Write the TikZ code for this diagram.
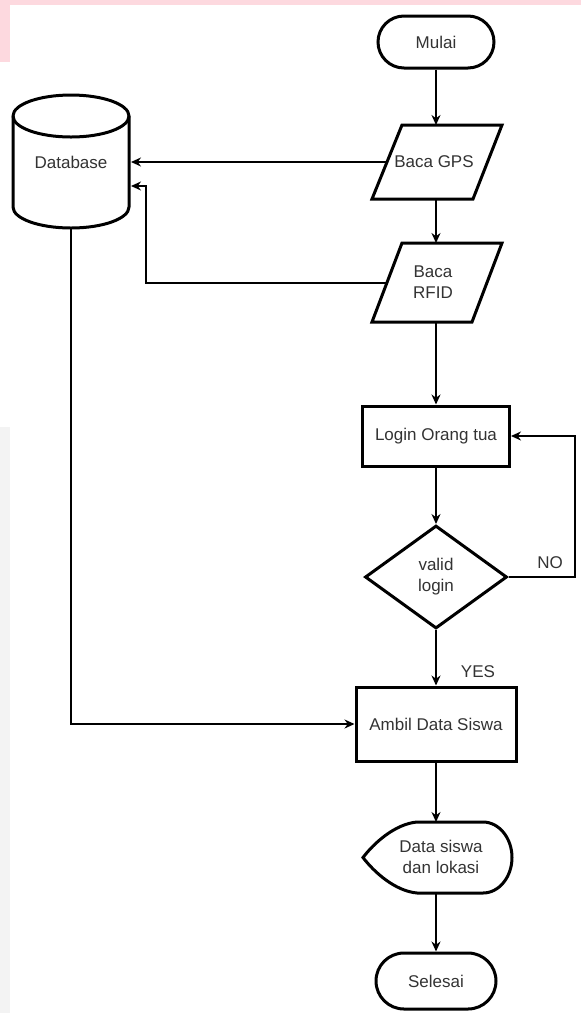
\documentclass[tikz,border=0pt]{standalone}
\usepackage{fontspec}
\setmainfont{Liberation Sans}
\usetikzlibrary{arrows.meta,shapes.geometric}
\definecolor{txt}{HTML}{333333}
\definecolor{pinkbar}{HTML}{FDD9DF}
\definecolor{graybar}{HTML}{F3F3F3}
\begin{document}
\begin{tikzpicture}[x=1pt,y=-1pt,
  outl/.style={draw=black, line width=3pt, fill=white, line join=miter},
  shp/.style={outl, text=txt, font=\fontsize{17}{21}\selectfont, align=center, inner sep=0pt},
  term/.style={shp, rounded corners=26pt, minimum width=116pt, minimum height=52pt},
  proc/.style={shp, rectangle},
  dec/.style={shp, diamond},
  lbl/.style={text=txt, font=\fontsize{17}{21}\selectfont, align=center, inner sep=0pt},
  conn/.style={draw=black, line width=1.5pt, -{Stealth[length=10pt,width=9pt]}}
]
\useasboundingbox (0,0) rectangle (581,1013);
\fill[white] (0,0) rectangle (581,1013);
\fill[pinkbar] (0,0) rectangle (581,5);
\fill[pinkbar] (0,0) rectangle (10,62);
\fill[graybar] (0,427) rectangle (10,1013);

% Database cylinder
\path[outl] (13,116) -- (13,207) arc[start angle=180,end angle=0,x radius=58,y radius=21]
  -- (129,116) arc[start angle=0,end angle=-180,x radius=58,y radius=21] -- cycle;
\draw[line width=3pt] (13,116) arc[start angle=180,end angle=0,x radius=58,y radius=21];
\node[lbl] (db) at (71,162) {Database};
\coordinate (dbR1) at (131,162);
\coordinate (dbR2) at (131,186);
\coordinate (dbB) at (71,228);

% Mulai
\node[term] (mulai) at (436,42) {Mulai};

% Baca GPS
\path[outl] (402,125) -- (502,125) -- (473,199) -- (372,199) -- cycle;
\node[lbl] (gps) at (434,162) {Baca GPS};
\coordinate (gpsT) at (436,125);
\coordinate (gpsB) at (436,199);
\coordinate (gpsL) at (387,162);

% Baca RFID
\path[outl] (402,243) -- (502,243) -- (472,322) -- (372,322) -- cycle;
\node[lbl] (rfid) at (433,282) {Baca\\RFID};
\coordinate (rfidT) at (436,243);
\coordinate (rfidB) at (436,322);
\coordinate (rfidL) at (387,283);

% Login
\node[proc, minimum width=147pt, minimum height=60pt] (login) at (436,436) {Login Orang tua};

% Decision
\node[dec, minimum width=142pt, minimum height=103pt] (valid) at (436,577) {valid\\login};

% Ambil
\node[proc, minimum width=160pt, minimum height=74pt] (ambil) at (436,724) {Ambil Data Siswa};

% Display
\path[outl] (417,822) -- (483,822)
  .. controls (499,822) and (512,838) .. (512,857.5)
  .. controls (512,877) and (499,893) .. (483,893)
  -- (417,893)
  .. controls (395,891) and (374,872) .. (363,857.5)
  .. controls (374,843) and (395,824) .. (417,822) -- cycle;
\node[lbl] (disp) at (441,857) {Data siswa\\dan lokasi};
\coordinate (dispT) at (436,822);
\coordinate (dispB) at (436,893);

% Selesai
\node[term, minimum width=120pt, minimum height=56pt, rounded corners=28pt] (selesai) at (436,981) {Selesai};

% Connectors
\draw[conn] (mulai.south) -- (gpsT);
\draw[conn] (gpsL) -- (dbR1);
\draw[conn] (gpsB) -- (rfidT);
\coordinate (bend) at (146,283);
\draw[conn] (rfidL) -- (bend) |- (dbR2);
\draw[conn] (rfidB) -- (login.north);
\draw[conn] (login.south) -- (valid.north);
\coordinate (noC) at (575,577);
\draw[conn] (valid.east) -- (noC) |- (login.east);
\node[lbl] (no) at (550,563) {NO};
\draw[conn] (valid.south) -- (ambil.north);
\node[lbl] (yes) at (478,672) {YES};
\draw[conn] (dbB) |- (ambil.west);
\draw[conn] (ambil.south) -- (dispT);
\draw[conn] (dispB) -- (selesai.north);
\end{tikzpicture}
\end{document}
